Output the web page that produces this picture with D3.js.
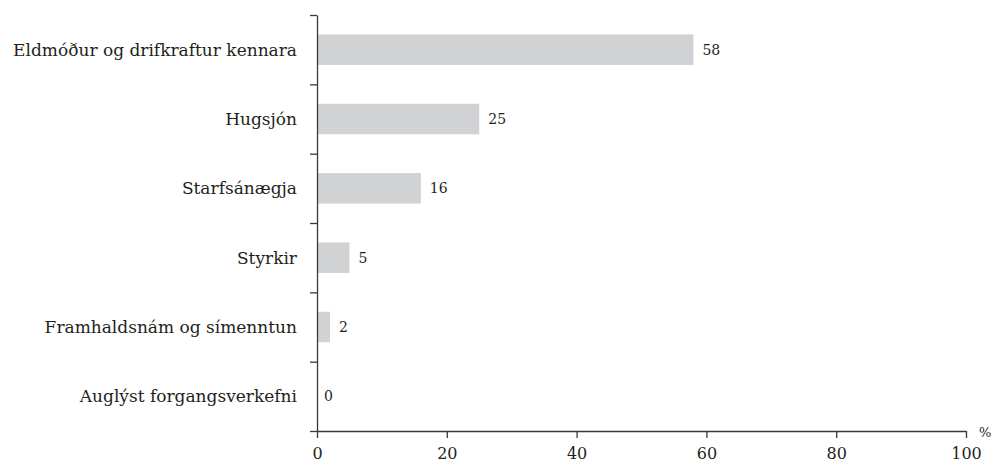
<!DOCTYPE html>
<html lang="is">
<head>
<meta charset="UTF-8">
<title>Hvatar</title>
<script src="https://cdn.jsdelivr.net/npm/d3@7"></script>
<style>
    body { margin: 0; background: #fff; }
    svg text { fill: #231f20; }
    .axis path, .axis line { stroke: #3a3a3a; stroke-width: 1.3; }
</style>
</head>
<body>
<script>
    const categories = ["Eldmóður og drifkraftur kennara", "Hugsjón", "Starfsánægja",
                        "Styrkir", "Framhaldsnám og símenntun", "Auglýst forgangsverkefni"];
    const values = [58, 25, 16, 5, 2, 0];
    const xTicks = [0, 20, 40, 60, 80, 100];

    const width = 995, height = 469;
    const plotLeft = 317, plotRight = 966, plotTop = 15, plotBottom = 431;
    const serif = "DejaVu Serif";

    const svg = d3.select("body").append("svg")
        .attr("width", width).attr("height", height);

    const x = d3.scaleLinear().domain([0, 100]).range([plotLeft, plotRight]);
    const y = d3.scaleBand().domain(categories).range([plotTop, plotBottom]).paddingInner(0.56).paddingOuter(0.28);
    // band boundaries for the y ticks
    const yEdge = d3.scaleLinear().domain([0, categories.length]).range([plotTop, plotBottom]);

    // bars
    svg.append("g").selectAll("rect")
        .data(values)
        .join("rect")
        .attr("x", x(0))
        .attr("y", (d, i) => y(categories[i]))
        .attr("width", d => x(d) - x(0))
        .attr("height", y.bandwidth())
        .attr("fill", "#d1d2d4");

    // value labels
    svg.append("g").selectAll("text")
        .data(values)
        .join("text")
        .attr("x", d => x(d) + (d > 0 ? 9 : 7))
        .attr("y", (d, i) => y(categories[i]) + y.bandwidth() / 2)
        .attr("dy", "0.35em")
        .attr("font-family", serif)
        .attr("font-size", 14)
        .text(d => d);

    // category labels
    svg.append("g").selectAll("text")
        .data(categories)
        .join("text")
        .attr("x", plotLeft - 20)
        .attr("y", d => y(d) + y.bandwidth() / 2)
        .attr("dy", "0.35em")
        .attr("text-anchor", "end")
        .attr("font-family", serif)
        .attr("font-size", 17)
        .text(d => d);

    // y axis
    svg.append("g").attr("class", "axis")
        .attr("transform", `translate(${plotLeft},0)`)
        .call(d3.axisLeft(yEdge).tickValues(d3.range(categories.length + 1))
            .tickFormat("").tickSize(7).tickSizeOuter(0));

    // x axis
    const xa = svg.append("g").attr("class", "axis")
        .attr("transform", `translate(0,${plotBottom})`)
        .call(d3.axisBottom(x).tickValues(xTicks).tickSize(7).tickSizeOuter(0).tickPadding(10));
    xa.attr("font-family", serif).attr("font-size", 16);
    xa.selectAll("text").attr("fill", "#231f20");

    svg.append("text")
        .attr("x", plotRight + 13)
        .attr("y", plotBottom + 6)
        .attr("font-family", serif)
        .attr("font-size", 13)
        .text("%");
</script>
</body>
</html>
